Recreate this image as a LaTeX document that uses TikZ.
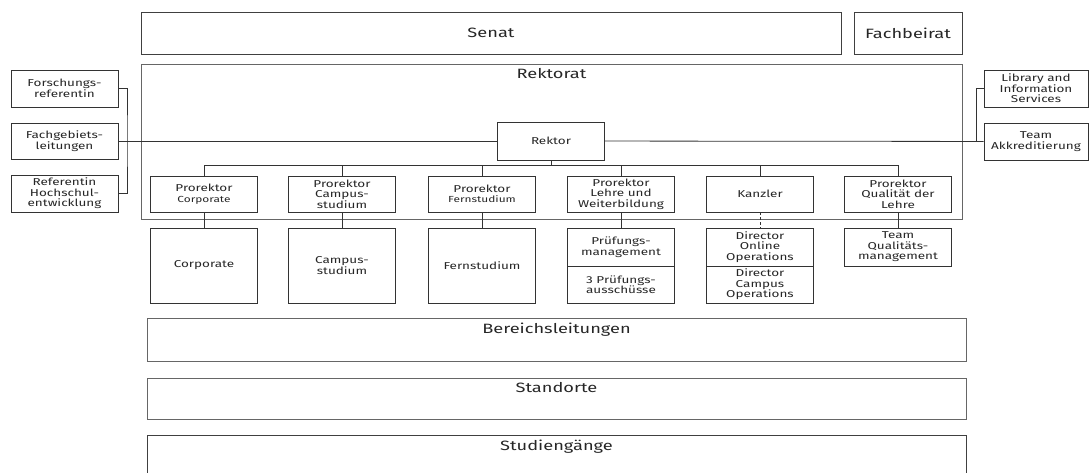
\documentclass[tikz,border=0pt]{standalone}
\usepackage{fontspec}
\setmainfont{Fira Sans}[FakeStretch=1.35]
\tikzset{%
    panel/.style={draw=black!60, line width=.7pt, inner sep=0pt, text=black!85,
    	font=\fontsize{13.5}{16}\selectfont},
    toplabel/.style={anchor=north, inner sep=0pt, yshift=-5pt, text=black!85,
    	font=\fontsize{13.5}{16}\selectfont},
    unit/.style={draw=black!80, line width=.9pt, fill=white, align=center,
    	inner sep=1pt, minimum width=107pt, text=black!85,
    	font=\fontsize{10}{10.5}\selectfont},
    sub/.style={font=\fontsize{8.8}{10.5}\selectfont},
    link/.style={draw=black!80, line width=.8pt}
}

\begin{document}
\begin{tikzpicture}[x=1pt, y=-1pt]
  \useasboundingbox (0,0) rectangle (1090,473);

  \node (senat) [panel, draw=black!75, minimum width=700pt, minimum height=42pt] at (491,33) {Senat};
  \node (beirat) [panel, draw=black!75, minimum width=108pt, minimum height=42pt] at (908,33) {Fachbeirat};
  \node (rektorat) [panel, minimum width=821pt, minimum height=155pt,
  	label={[toplabel]north:Rektorat}] at (551.5,141.5) {};

  \node (fref) [unit, minimum height=37pt] at (64.5,88.5) {Forschungs-\\referentin};
  \node (fgl) [unit, minimum height=36pt] at (64.5,141) {Fachgebiets-\\leitungen};
  \node (hsr) [unit, minimum height=37pt] at (64.5,193.5) {Referentin\\Hochschul-\\entwicklung};

  \node (lis) [unit, minimum width=104pt, minimum height=37pt] at (1036,88.5) {Library and\\Information\\Services};
  \node (akk) [unit, minimum width=104pt, minimum height=37pt] at (1036,141.5) {Team\\Akkreditierung};

  \node (rektor) [unit, minimum height=38pt] at (551,141) {Rektor};

  \node (pko) [unit, minimum height=36pt] at (204,194) {Prorektor\\{\fontsize{8.8}{10.5}\selectfont Corporate}};
  \node (pca) [unit, minimum height=36pt] at (342,194) {Prorektor\\Campus-\\studium};
  \node (pfe) [unit, minimum height=36pt] at (482,194) {Prorektor\\{\fontsize{8.8}{10.5}\selectfont Fernstudium}};
  \node (ple) [unit, minimum height=36pt] at (621,194) {Prorektor\\Lehre und\\Weiterbildung};
  \node (kan) [unit, minimum height=36pt] at (760,194) {Kanzler};
  \node (pqu) [unit, minimum height=36pt] at (898,194) {Prorektor\\Qualität der\\Lehre};

  \node (corp) [unit, minimum height=75pt] at (204,265.5) {Corporate};
  \node (camp) [unit, minimum height=75pt] at (342,265.5) {Campus-\\studium};
  \node (fern) [unit, minimum height=75pt] at (482,265.5) {Fernstudium};
  \node (pruef) [unit, minimum height=38pt] at (621,247) {Prüfungs-\\management};
  \node (aussch) [unit, minimum height=37pt] at (621,284.5) {3 Prüfungs-\\ausschüsse};
  \node (donl) [unit, minimum height=38pt] at (760,247) {Director\\Online\\Operations};
  \node (dcam) [unit, minimum height=37pt] at (760,284.5) {Director\\Campus\\Operations};
  \node (tqm) [unit, minimum height=38pt] at (898,247) {Team\\Qualitäts-\\management};

  \node (bereich) [panel, minimum width=819pt, minimum height=43pt,
  	label={[toplabel]north:Bereichsleitungen}] at (556.5,339.5) {};
  \node (standort) [panel, minimum width=819pt, minimum height=41pt,
  	label={[toplabel]north:Standorte}] at (556.5,398.5) {};
  \node (studg) [panel, draw=black!75, minimum width=819pt, minimum height=50pt,
  	label={[toplabel]north:Studiengänge}] at (556.5,460) {};

  \coordinate (lbr) at (127,141);
  \coordinate (rbr) at (976,141.5);
  \coordinate (bus) at (551,165);

  \draw [link] (fgl) edge (rektor); \draw [link] (rektor) edge (akk);
  \draw [link] (fref) -| (lbr) |- (hsr);
  \draw [link] (lis) -| (rbr);

  \draw [link] (rektor) edge (bus);
  \foreach \p in {pko,pca,pfe,ple,kan,pqu}
    \draw [link] (bus) -| (\p);

  \draw [link] (pko) edge (corp); \draw [link] (pca) edge (camp);
  \draw [link] (pfe) edge (fern); \draw [link] (ple) edge (pruef);
  \draw [link] (kan) edge [densely dashed] (donl);
  \draw [link] (pqu) edge (tqm);

\end{tikzpicture}
\end{document}
